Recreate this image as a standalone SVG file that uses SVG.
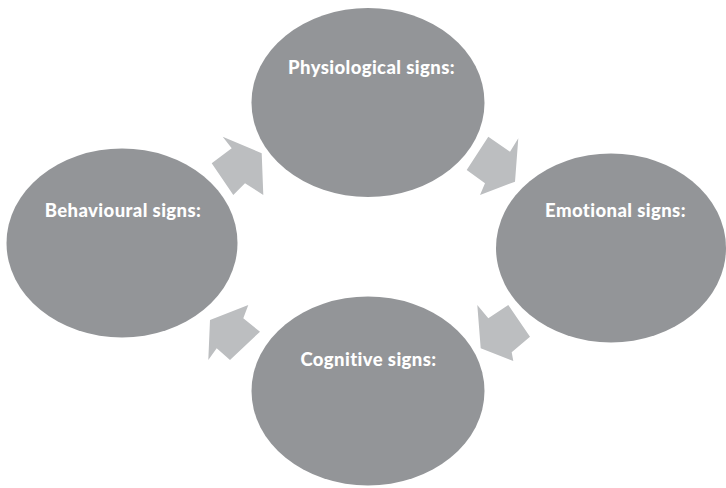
<svg xmlns="http://www.w3.org/2000/svg" width="726" height="488" viewBox="0 0 726 488">
  <style>
    .node { fill: #939598; }
    .label { fill: #ffffff; font-family: Lato, "Open Sans", "Liberation Sans", sans-serif; font-weight: 900; font-size: 18.5px; letter-spacing: 0.4px; text-anchor: middle; }
    .flow { fill: #bcbec0; }
  </style>
  <rect width="726" height="488" fill="#ffffff"/>

  <!-- cycle arrows -->
  <g id="connectors">
    <polygon class="flow" points="222.7,136.7 261.7,153.3 263.3,195 245,183.3 233.3,195 211.7,163.3 231.7,148.3"/>
    <polygon class="flow" points="518.3,138.3 515,181.7 480,195 485,183.3 466.7,170 488.3,136.7 510,151.7"/>
    <polygon class="flow" points="513.3,361 480.7,348.3 477.3,305 488.3,318.3 508.3,305 530,336.7 511.7,352.3"/>
    <polygon class="flow" points="208.3,360 210,320 248.3,305 243.3,318.3 260,331.7 230,360 216.7,348.3"/>
  </g>

  <g id="physiological">
    <ellipse class="node" cx="368" cy="102.5" rx="116.5" ry="94.5"/>
    <text class="label" x="371.5" y="73.5">Physiological signs:</text>
  </g>

  <g id="emotional">
    <ellipse class="node" cx="611" cy="248" rx="115" ry="94.5"/>
    <text class="label" x="615.5" y="217">Emotional signs:</text>
  </g>

  <g id="cognitive">
    <ellipse class="node" cx="368" cy="391" rx="116.5" ry="94.5"/>
    <text class="label" x="368.5" y="365.5">Cognitive signs:</text>
  </g>

  <g id="behavioural">
    <ellipse class="node" cx="122" cy="243" rx="115.5" ry="94.5"/>
    <text class="label" x="123" y="217">Behavioural signs:</text>
  </g>
</svg>
